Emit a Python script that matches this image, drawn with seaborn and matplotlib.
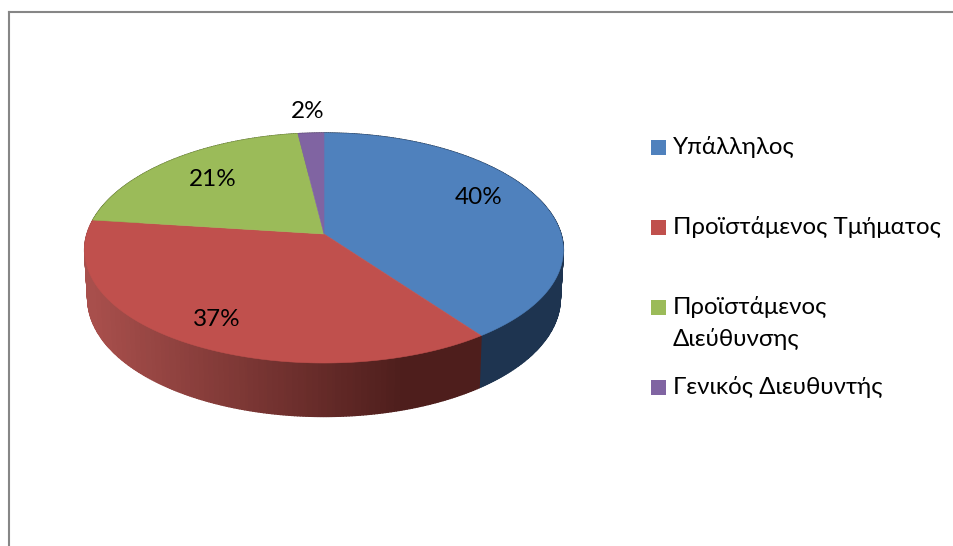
import numpy as np
import matplotlib
matplotlib.use('Agg')
import matplotlib.pyplot as plt
import seaborn as sns

# data
categories = ['Υπάλληλος', 'Προϊστάμενος Τμήματος', 'Προϊστάμενος\nΔιεύθυνσης', 'Γενικός Διευθυντής']
shares = [40, 37, 21, 2]
colors = ['#4F81BD', '#C0504D', '#9BBB59', '#8064A2']
wall_colors = ['#1E3450', '#A84F4C', '#5E7232', '#4C3C62']

sns.set_theme(style='white')
plt.rcParams['font.family'] = ['Lato', 'Open Sans', 'DejaVu Sans']

# perspective of the tilted disc, in picture pixels
cx, top_cy, top_rx, top_ry = 324, 234, 237, 113.3
bot_cy, bot_rx, bot_ry = 281, 234, 119
persp_x, persp_y = 0.14, 0.1217


def project(theta, cy, rx, ry):
    # theta runs clockwise from 12 o'clock
    u, v = np.sin(theta), np.cos(theta)
    return cx + rx * u / (1 + persp_x * v), cy - ry * v / (1 + persp_y * v)


fig = plt.figure(figsize=(9.54, 5.46), dpi=100)
ax = fig.add_axes([9 / 954, 0, 945 / 954, 534 / 546])
ax.set_xlim(9, 954)
ax.set_ylim(546, 12)
ax.set_xticks([])
ax.set_yticks([])
sns.despine(ax=ax, top=False, right=True, bottom=True)
for side in ['left', 'top']:
    ax.spines[side].set_color('#868686')
    ax.spines[side].set_linewidth(1.5)

edges = np.cumsum([0] + shares) / sum(shares) * 2 * np.pi

# red wall shades with x, light on the left to dark under the blue slice
red_shades = sns.blend_palette(['#A84F4C', '#4E1E1C'], 64)

# side wall first, the top surface covers the back part
for i in range(len(shares)):
    steps = np.linspace(edges[i], edges[i + 1], max(shares[i] * 6, 4))
    for j in range(len(steps) - 1):
        th = np.linspace(steps[j], steps[j + 1], 4)
        x1, y1 = project(th, top_cy, top_rx, top_ry)
        x2, y2 = project(th[::-1], bot_cy, bot_rx, bot_ry)
        strip_color = wall_colors[i]
        if i == 1:
            t = np.clip((x1.mean() - 90) / 310, 0, 1)
            strip_color = red_shades[int(t * 63)]
        ax.fill(np.r_[x1, x2], np.r_[y1, y2], color=strip_color, lw=1, zorder=2)

# top surface
for i in range(len(shares)):
    th = np.linspace(edges[i], edges[i + 1], 120)
    x, y = project(th, top_cy, top_rx, top_ry)
    ax.fill(np.r_[cx, x], np.r_[top_cy, y], color=colors[i], lw=0.4, zorder=3)

# percent labels
label_x = [479, 217, 213, 308]
label_y = [198, 320, 180, 112]
for s, lx, ly in zip(shares, label_x, label_y):
    ax.text(lx, ly, f'{s}%', fontsize=17.5, color='black', ha='center', va='center', zorder=4)

# legend
swatch_y = [147, 227, 307, 387]
for name, c, sy in zip(categories, colors, swatch_y):
    ax.fill([651, 666, 666, 651], [sy - 7.5, sy - 7.5, sy + 7.5, sy + 7.5], color=c, lw=0)
    ax.text(673, sy - 11, name, fontsize=17.3, color='black', ha='left', va='top', linespacing=1.53)

fig.savefig('out.png', dpi=100)
